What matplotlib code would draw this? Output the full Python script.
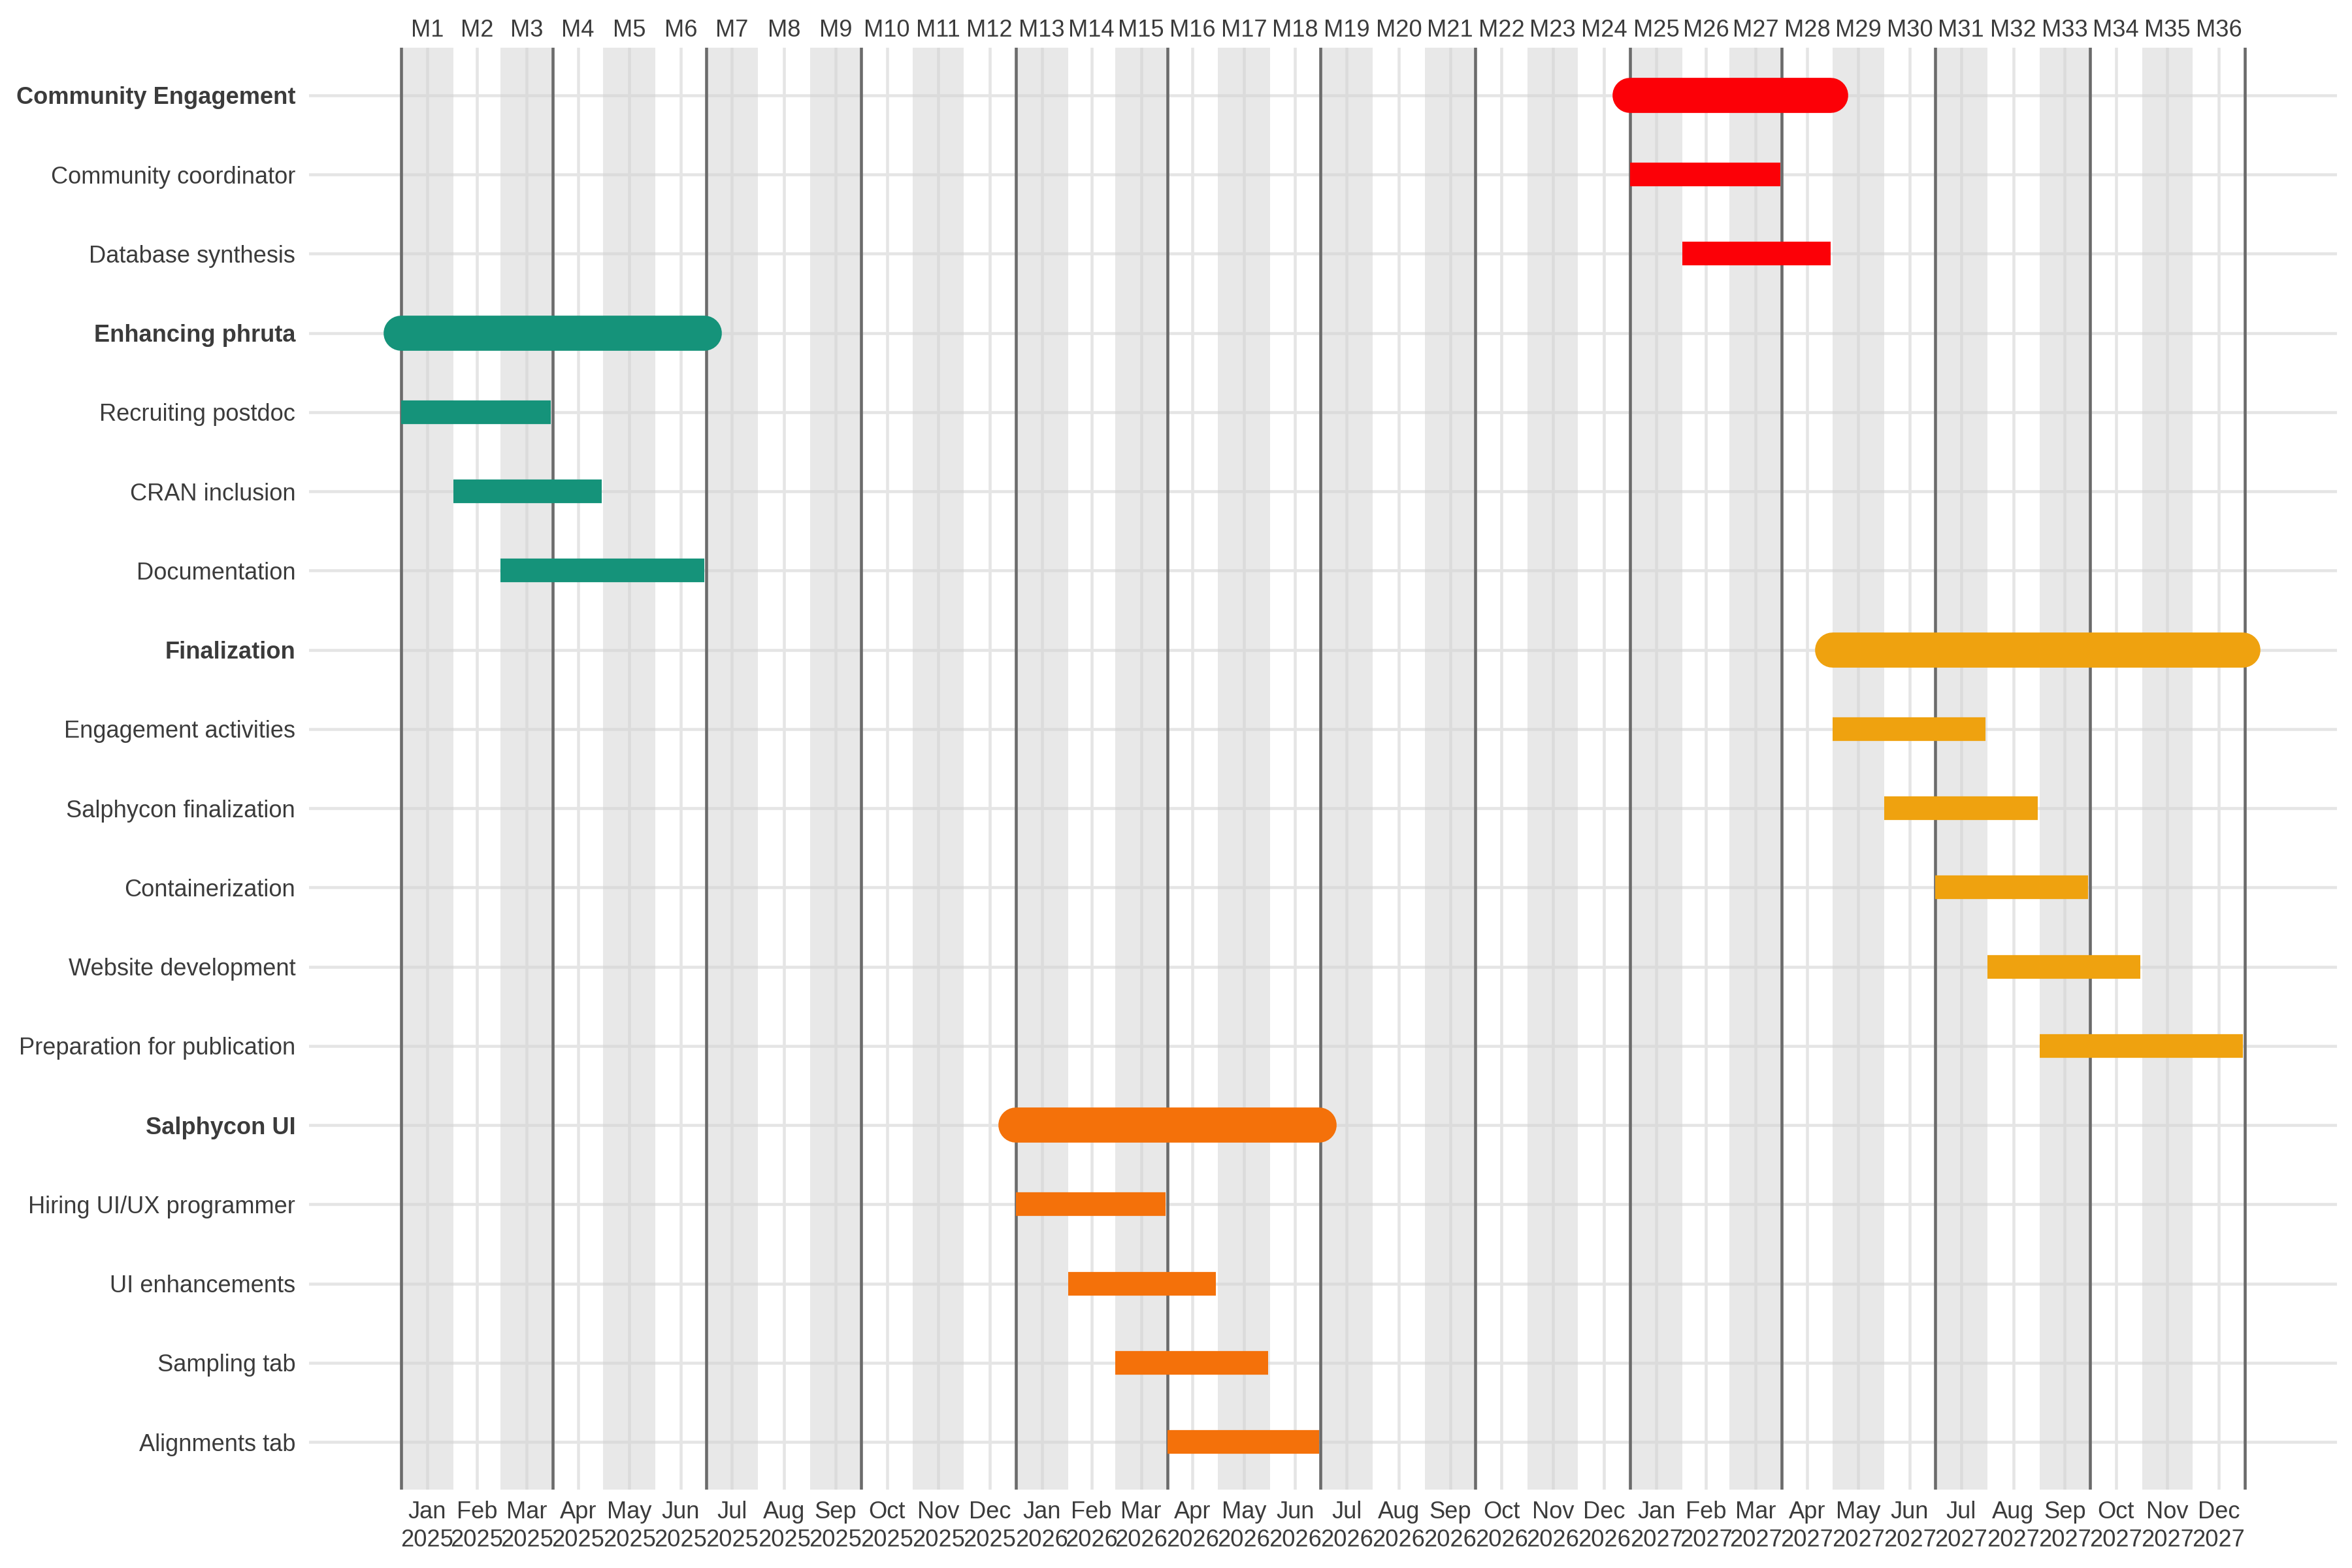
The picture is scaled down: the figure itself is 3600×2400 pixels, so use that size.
import datetime as dt
import matplotlib
matplotlib.use("Agg")
import matplotlib.pyplot as plt
import matplotlib.dates as mdates

plt.rcParams['font.family'] = ['Liberation Sans', 'DejaVu Sans']

PROJECT_START_YEAR = 2025
N_MONTHS = 36

# work packages (alphabetical, as in the chart) and their colours
wp_names = ["Community Engagement", "Enhancing phruta", "Finalization", "Salphycon UI"]
wp_colours = ["#FC0007", "#15937A", "#EFA20F", "#F4710A"]

# activities: work package, first month, last month (project months, inclusive)
activities = ["Community coordinator", "Database synthesis",
              "Recruiting postdoc", "CRAN inclusion", "Documentation",
              "Engagement activities", "Salphycon finalization", "Containerization",
              "Website development", "Preparation for publication",
              "Hiring UI/UX programmer", "UI enhancements", "Sampling tab", "Alignments tab"]
activity_wp = ["Community Engagement", "Community Engagement",
               "Enhancing phruta", "Enhancing phruta", "Enhancing phruta",
               "Finalization", "Finalization", "Finalization", "Finalization", "Finalization",
               "Salphycon UI", "Salphycon UI", "Salphycon UI", "Salphycon UI"]
activity_start = [25, 26, 1, 2, 3, 29, 30, 31, 32, 33, 13, 14, 15, 16]
activity_end = [27, 28, 3, 4, 6, 31, 32, 33, 34, 36, 15, 16, 17, 18]

month_names = ["Jan", "Feb", "Mar", "Apr", "May", "Jun",
               "Jul", "Aug", "Sep", "Oct", "Nov", "Dec"]


def month_start(m):
    # m is a project month, 1-based
    return dt.date(PROJECT_START_YEAR + (m - 1) // 12, (m - 1) % 12 + 1, 1)


def month_end(m):
    return month_start(m + 1) - dt.timedelta(days=1)


def num(d):
    return mdates.date2num(d)


TEXT_COL = "#3B3B3B"
FS = 8.7

fig = plt.figure(figsize=(12, 8), dpi=300)
ax = fig.add_axes([473 / 3600, 1 - 2280 / 2400, (3577 - 473) / 3600, (2280 - 73) / 2400])

# rows: each WP followed by its activities
row_labels = []
row_is_wp = []
y = 0
for wp, col in zip(wp_names, wp_colours):
    idx = [i for i, w in enumerate(activity_wp) if w == wp]
    wp_first = min(activity_start[i] for i in idx)
    wp_last = max(activity_end[i] for i in idx)
    ax.plot([num(month_start(wp_first)), num(month_end(wp_last))], [y, y],
            color=col, lw=12.9, solid_capstyle='round', zorder=4)
    row_labels.append(wp)
    row_is_wp.append(True)
    y += 1
    for i in idx:
        ax.plot([num(month_start(activity_start[i])), num(month_end(activity_end[i]))], [y, y],
                color=col, lw=8.7, solid_capstyle='butt', zorder=4)
        row_labels.append(activities[i])
        row_is_wp.append(False)
        y += 1
n_rows = len(row_labels)

# alternating month shading and quarter lines
for m in range(1, N_MONTHS + 1, 2):
    ax.axvspan(num(month_start(m)), num(month_start(m + 1)), color="#D3D3D3",
               alpha=0.52, lw=0, zorder=1)
for m in range(1, N_MONTHS + 2, 3):
    ax.axvline(num(month_start(m)), color="#6B6B6B", lw=1.1, zorder=2)

x0 = num(month_start(1))
x1 = num(month_start(N_MONTHS + 1))
pad = 0.05 * (x1 - x0)
ax.set_xlim(x0 - pad, x1 + pad)
ax.set_ylim(n_rows - 1 + 0.6, -0.6)

# ticks in the middle of each month
mids = [num(month_start(m)) + (num(month_start(m + 1)) - num(month_start(m))) / 2
        for m in range(1, N_MONTHS + 1)]
bottom_labels = [f"{month_names[(m - 1) % 12]}\n{month_start(m).year}" for m in range(1, N_MONTHS + 1)]
top_labels = [f"M{m}" for m in range(1, N_MONTHS + 1)]

ax.set_xticks(mids)
ax.set_xticklabels(bottom_labels, fontsize=FS, color=TEXT_COL, linespacing=1.3)
ax.set_yticks(range(n_rows))
ax.set_yticklabels(row_labels, fontsize=FS, color=TEXT_COL)
for lab, is_wp in zip(ax.get_yticklabels(), row_is_wp):
    if is_wp:
        lab.set_fontweight('bold')

ax.tick_params(axis='x', length=0, pad=4)
ax.tick_params(axis='y', length=0, pad=5)

secax = ax.secondary_xaxis('top')
secax.set_xticks(mids)
secax.set_xticklabels(top_labels, fontsize=FS, color=TEXT_COL)
secax.tick_params(length=0, pad=2.2)
for s in secax.spines.values():
    s.set_visible(False)

ax.set_axisbelow(True)
ax.grid(True, color="#E5E5E5", lw=1.1)
for s in ax.spines.values():
    s.set_visible(False)

fig.savefig("out.png", dpi=300, facecolor="white")
